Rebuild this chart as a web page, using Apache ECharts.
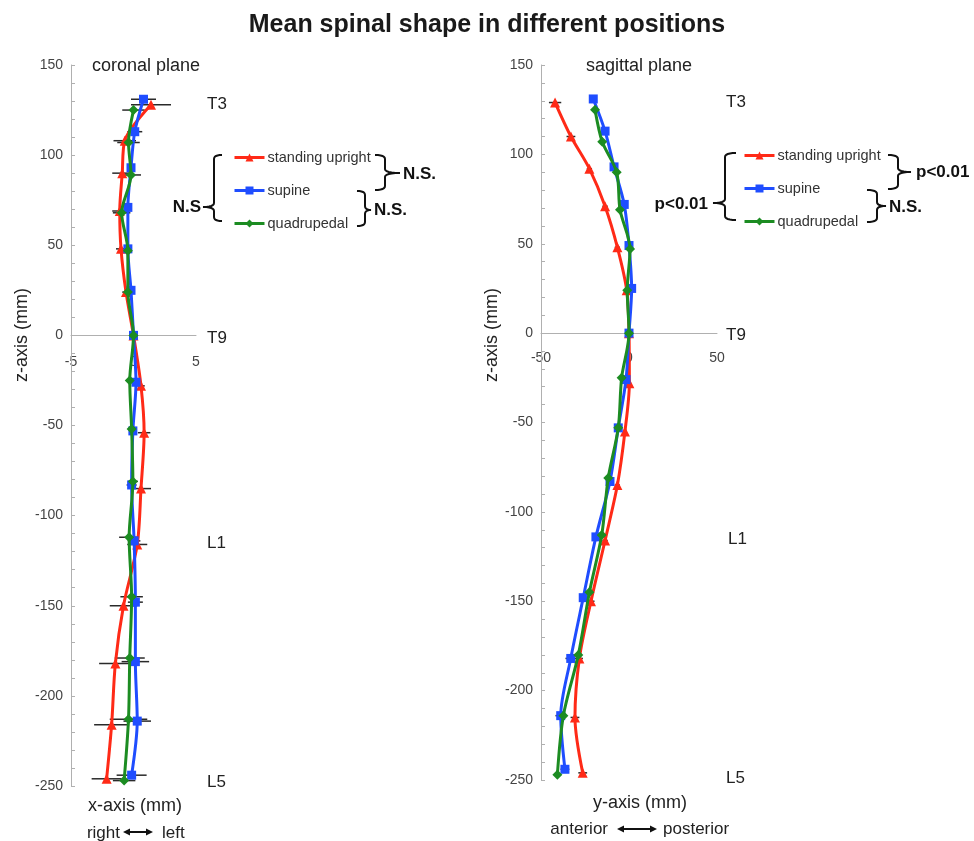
<!DOCTYPE html>
<html><head><meta charset="utf-8">
<script src="https://cdn.jsdelivr.net/npm/echarts@6/dist/echarts.min.js"></script>
<style>html,body{margin:0;padding:0;background:#fff}#c{width:974px;height:841px}</style>
</head><body><div id="c"></div>
<script>
// ---- Data ----
const seriesNames = ['standing upright', 'supine', 'quadrupedal'];
// Coronal plane (x-axis, mm) vs z (mm)
const corStandZ = [128,108,90,69,48,24,0,-28,-54,-85,-116,-150,-182,-216,-246];
const corStandX = [1.4,-0.7,-0.9,-1.1,-1.0,-0.6,0,0.6,0.85,0.6,0.3,-0.8,-1.45,-1.75,-2.15];
const corStandErr = [1.6,0.9,0.8,0.6,0.4,0.3,0,0.3,0.5,0.8,0.8,1.1,1.3,1.4,1.2];
const corSupZ = [131,113,93,71,48,25,0,-26,-53,-83,-114,-148,-181,-214,-244];
const corSupX = [0.8,0.1,-0.2,-0.45,-0.45,-0.2,0,0.2,-0.05,-0.15,0.05,0.15,0.15,0.3,-0.15];
const corSupErr = [1.0,0.6,0.3,0.3,0.3,0.3,0,0.2,0.3,0.4,0.5,0.6,1.1,1.1,1.2];
const corQuadZ = [125,107,89,68,47,24,0,-25,-52,-81,-112,-145,-179,-213,-247];
const corQuadX = [0,-0.4,-0.2,-0.95,-0.45,-0.45,0,-0.3,-0.15,-0.05,-0.35,-0.15,-0.3,-0.4,-0.75];
const corQuadErr = [0.9,0.9,0.8,0.7,0.3,0.3,0,0.2,0.3,0.4,0.8,0.9,1.2,1.5,0.9];
// Sagittal plane (y-axis, mm) vs z (mm)
const sagStandZ = [129,110,92,71,48,24,0,-28,-55,-85,-116,-150,-182,-215,-246];
const sagStandY = [-42,-33,-22.5,-13.6,-6.6,-1.3,0,0.2,-2.3,-6.6,-13.6,-21.6,-28.2,-30.7,-26.3];
const sagStandErr = [3.5,2.5,1.5,1.5,1.5,1,0,1,1,1.5,1.5,2,2,2.5,2.5];
const sagSupZ = [131,113,93,72,49,25,0,-26,-53,-83,-114,-148,-182,-214,-244];
const sagSupY = [-20.3,-13.6,-8.5,-2.7,0,1.5,0,-1.7,-6.1,-10.8,-18.8,-26,-33.1,-38.8,-36.4];
const sagSupErr = [1.5,1.5,1.5,1.5,1.5,1,0,1,1.5,1.5,2,2,3,3,2.5];
const sagQuadZ = [125,107,90,69,47,24,0,-25,-53,-81,-113,-145,-180,-214,-247];
const sagQuadY = [-19.3,-15.2,-7,-5.1,0.6,-1,0,-4.2,-6.1,-11.8,-15.5,-22.5,-28.8,-37.3,-40.7];
const sagQuadErr = [1,1,1,1,1,1,0,1,1,1.5,1.5,2,2,2,2];
// Axis ticks
const zTicks = {min:-250, max:150, interval:50};
const corTicks = {min:-5, max:5, interval:5};
const sagTicks = {min:-50, max:50, interval:50};
const corTickLabels = ['-5', '0', '5'];
const sagTickLabels = ['-50', '0', '50'];
const vertebraLabels = ['T3','T9','L1','L5'];

// ---- Styles / layout ----
const colors = ['#ff2a17', '#1f4dff', '#1c8c22'];
const symbols = ['triangle', 'rect', 'diamond'];
const symSizes = [10, 9, 10];
const grids = [
  {left: 71, top: 65, width: 125, height: 721},
  {left: 541, top: 65, width: 176, height: 715}
];
const FONT = 'Liberation Sans';

const zip = (xs, zs) => xs.map((v, i) => [v, zs[i]]);
const zip3 = (xs, zs, es) => xs.map((v, i) => [v, zs[i], es[i]]);

const chart = echarts.init(document.getElementById('c'));

function lineSeries(idx, name, data, gi) {
  return {
    type: 'line', name, xAxisIndex: gi, yAxisIndex: gi, data,
    smooth: 0.3, symbol: symbols[idx], symbolSize: symSizes[idx],
    lineStyle: {width: 3, color: colors[idx]},
    itemStyle: {color: colors[idx]}, z: 3 + idx, animation: false
  };
}
function errSeries(data, gi) {
  return {
    type: 'custom', xAxisIndex: gi, yAxisIndex: gi, data, z: 2, silent: true,
    animation: false,
    renderItem: (params, api) => {
      const x = api.value(0), zz = api.value(1), e = api.value(2);
      if (!e) return null;
      const p1 = api.coord([x - e, zz]), p2 = api.coord([x + e, zz]);
      return {type: 'line', shape: {x1: p1[0], y1: p1[1], x2: p2[0], y2: p2[1]},
        style: {stroke: '#2a2a2a', lineWidth: 1.5}};
    }
  };
}
function yAxisCfg(gi) {
  return {
    gridIndex: gi, type: 'value', min: zTicks.min, max: zTicks.max, interval: zTicks.interval,
    axisLine: {show: true, onZero: false, lineStyle: {color: '#b0b0b0', width: 1}},
    axisTick: {show: true, inside: true, length: 4, lineStyle: {color: '#b0b0b0'}},
    minorTick: {show: true, splitNumber: 5, length: 4, lineStyle: {color: '#b0b0b0'}},
    splitLine: {show: false},
    axisLabel: {fontSize: 14, color: '#444', margin: 8, fontFamily: FONT}
  };
}
function xAxisCfg(gi, t) {
  return {
    gridIndex: gi, type: 'value', min: t.min, max: t.max, interval: t.interval,
    axisLine: {show: true, onZero: true, lineStyle: {color: '#b0b0b0', width: 1}},
    axisTick: {show: false}, splitLine: {show: false},
    axisLabel: {show: false}
  };
}
function quadPts(p0, c, p1, n) {
  const pts = [];
  for (let i = 1; i <= n; i++) {
    const t = i / n, u = 1 - t;
    pts.push([u * u * p0[0] + 2 * u * t * c[0] + t * t * p1[0], u * u * p0[1] + 2 * u * t * c[1] + t * t * p1[1]]);
  }
  return pts;
}
// vertical bar at x, arms of length arm toward -dir side, tip of length tip toward dir side
function bracket(x, y1, y2, ym, dir, arm, tip) {
  const a = arm * -dir, t = tip * dir, r = 4, n = 6;
  let pts = [[x + a, y1]];
  pts = pts.concat(quadPts([x + a, y1], [x, y1], [x, y1 + r], n));
  pts.push([x, ym - r]);
  pts = pts.concat(quadPts([x, ym - r], [x, ym], [x + t, ym], n));
  pts = pts.concat(quadPts([x + t, ym], [x, ym], [x, ym + r], n));
  pts.push([x, y2 - r]);
  pts = pts.concat(quadPts([x, y2 - r], [x, y2], [x + a, y2], n));
  return {type: 'polyline', silent: true, shape: {points: pts},
    style: {stroke: '#111', lineWidth: 2, fill: null}};
}
function txt(x, y, text, opts, extra) {
  return Object.assign({type: 'text', x, y, silent: true,
    style: Object.assign({text, fill: '#222', fontFamily: FONT, fontSize: 15,
      align: 'center', verticalAlign: 'middle'}, opts || {})}, extra || {});
}
function arrow(x1, x2, y) {
  const h = 7, w = 3.5;
  return [
    {type: 'line', silent: true, shape: {x1: x1 + h, y1: y, x2: x2 - h, y2: y}, style: {stroke: '#111', lineWidth: 2}},
    {type: 'polygon', silent: true, shape: {points: [[x1, y], [x1 + h, y - w], [x1 + h, y + w]]}, style: {fill: '#111'}},
    {type: 'polygon', silent: true, shape: {points: [[x2, y], [x2 - h, y - w], [x2 - h, y + w]]}, style: {fill: '#111'}}
  ];
}
function xTickTexts(g, t, labels, y) {
  return labels.map((lab, i) => {
    const v = t.min + i * t.interval;
    const px = g.left + (v - t.min) / (t.max - t.min) * g.width;
    return txt(px, y, lab, {fontSize: 14, fill: '#444'});
  });
}
function legendCfg(left, top) {
  return {
    data: seriesNames, orient: 'vertical', left, top, itemWidth: 30, itemHeight: 10,
    itemGap: 18, selectedMode: false, padding: 0,
    lineStyle: {width: 3},
    textStyle: {fontSize: 14.5, color: '#333', fontFamily: FONT, padding: [0, 0, 0, -2]}
  };
}
const bold = {fontSize: 17, fontWeight: 'bold', fill: '#111'};

const option = {
  backgroundColor: '#fff',
  animation: false,
  title: {text: 'Mean spinal shape in different positions', left: 'center', top: 8,
    textStyle: {fontSize: 25, fontWeight: 'bold', color: '#1a1a1a', fontFamily: FONT}},
  grid: grids,
  xAxis: [xAxisCfg(0, corTicks), xAxisCfg(1, sagTicks)],
  yAxis: [yAxisCfg(0), yAxisCfg(1)],
  legend: [legendCfg(233, 150), legendCfg(743, 148)],
  series: [
    errSeries(zip3(corStandX, corStandZ, corStandErr), 0),
    errSeries(zip3(corSupX, corSupZ, corSupErr), 0),
    errSeries(zip3(corQuadX, corQuadZ, corQuadErr), 0),
    errSeries(zip3(sagStandY, sagStandZ, sagStandErr), 1),
    errSeries(zip3(sagSupY, sagSupZ, sagSupErr), 1),
    errSeries(zip3(sagQuadY, sagQuadZ, sagQuadErr), 1),
    lineSeries(0, seriesNames[0], zip(corStandX, corStandZ), 0),
    lineSeries(1, seriesNames[1], zip(corSupX, corSupZ), 0),
    lineSeries(2, seriesNames[2], zip(corQuadX, corQuadZ), 0),
    lineSeries(0, seriesNames[0], zip(sagStandY, sagStandZ), 1),
    lineSeries(1, seriesNames[1], zip(sagSupY, sagSupZ), 1),
    lineSeries(2, seriesNames[2], zip(sagQuadY, sagQuadZ), 1)
  ],
  graphic: [
    ...xTickTexts(grids[0], corTicks, corTickLabels, 362),
    ...xTickTexts(grids[1], sagTicks, sagTickLabels, 358),
    txt(146, 66, 'coronal plane', {fontSize: 18}),
    txt(639, 66, 'sagittal plane', {fontSize: 18}),
    txt(22, 335, 'z-axis (mm)', {fontSize: 18}, {rotation: Math.PI / 2}),
    txt(492, 335, 'z-axis (mm)', {fontSize: 18}, {rotation: Math.PI / 2}),
    txt(135, 806, 'x-axis (mm)', {fontSize: 18}),
    txt(640, 803, 'y-axis (mm)', {fontSize: 18}),
    txt(120, 833, 'right', {fontSize: 17, align: 'right'}),
    txt(162, 833, 'left', {fontSize: 17, align: 'left'}),
    ...arrow(123, 153, 832),
    txt(608, 829, 'anterior', {fontSize: 17, align: 'right'}),
    txt(663, 829, 'posterior', {fontSize: 17, align: 'left'}),
    ...arrow(617, 657, 829),
    txt(207, 104, vertebraLabels[0], {fontSize: 17, align: 'left'}),
    txt(207, 338, vertebraLabels[1], {fontSize: 17, align: 'left'}),
    txt(207, 543, vertebraLabels[2], {fontSize: 17, align: 'left'}),
    txt(207, 782, vertebraLabels[3], {fontSize: 17, align: 'left'}),
    txt(726, 102, vertebraLabels[0], {fontSize: 17, align: 'left'}),
    txt(726, 335, vertebraLabels[1], {fontSize: 17, align: 'left'}),
    txt(728, 539, vertebraLabels[2], {fontSize: 17, align: 'left'}),
    txt(726, 778, vertebraLabels[3], {fontSize: 17, align: 'left'}),
    // left brackets
    bracket(214, 155, 221, 207, -1, 8, 11),
    txt(201, 207, 'N.S', Object.assign({align: 'right'}, bold)),
    bracket(385, 155, 190, 173, 1, 10, 15),
    txt(403, 174, 'N.S.', Object.assign({align: 'left'}, bold)),
    bracket(365, 191, 226, 210, 1, 8, 6),
    txt(374, 210, 'N.S.', Object.assign({align: 'left'}, bold)),
    // right brackets
    bracket(725, 153, 220, 203, -1, 11, 12),
    txt(708, 204, 'p<0.01', Object.assign({align: 'right'}, bold)),
    bracket(898, 155, 189, 172, 1, 10, 13),
    txt(916, 172, 'p<0.01', Object.assign({align: 'left'}, bold)),
    bracket(877, 190, 222, 206, 1, 10, 9),
    txt(889, 207, 'N.S.', Object.assign({align: 'left'}, bold))
  ]
};
chart.setOption(option);
</script>
</body></html>
